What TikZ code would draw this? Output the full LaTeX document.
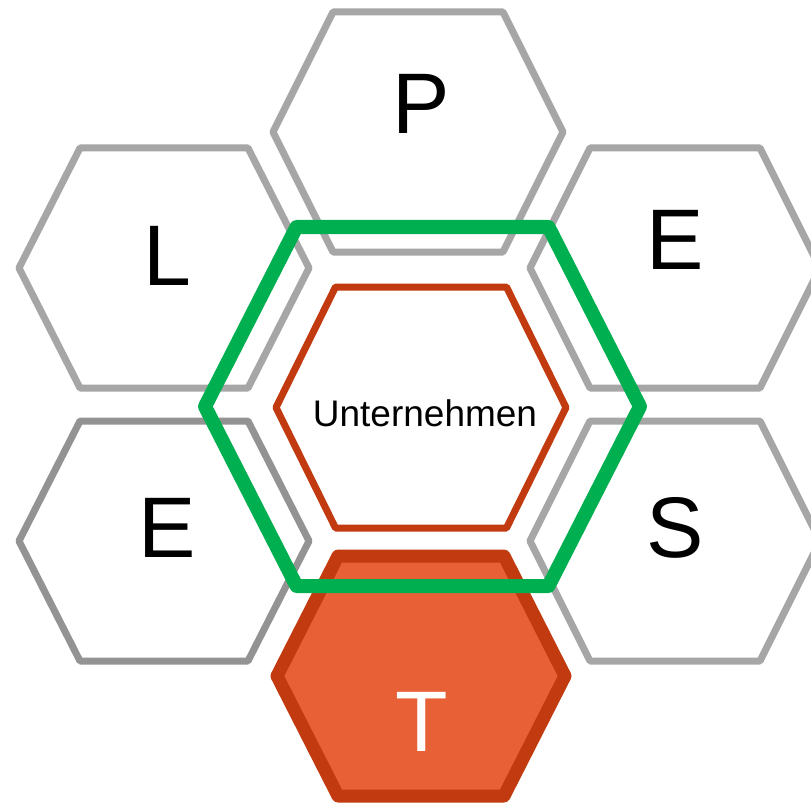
\documentclass[tikz,border=0pt]{standalone}
\usepackage{fontspec}
\setmainfont{Liberation Sans}
\definecolor{hexgray}{HTML}{A6A6A6}
\definecolor{hexgraydark}{HTML}{939393}
\definecolor{redline}{HTML}{C23A10}
\definecolor{tfill}{HTML}{E86036}
\definecolor{greenline}{HTML}{00B050}
\newcommand{\hexpath}[5]{(#1-#3,#2) -- (#1-#5,#2-#4) -- (#1+#5,#2-#4) -- (#1+#3,#2) -- (#1+#5,#2+#4) -- (#1-#5,#2+#4) -- cycle}
\tikzset{
  grayhex/.style={draw=hexgray, line width=7pt, line join=round},
  bigletter/.style={inner sep=0pt, font=\fontsize{86}{86}\selectfont},
}
\begin{document}
\begin{tikzpicture}[x=1pt,y=-1pt]
\useasboundingbox[fill=white] (0,0) rectangle (811,805);
% outer gray hexagons
\draw[grayhex] \hexpath{418}{132}{145}{120}{85};
\draw[grayhex] \hexpath{164}{268}{145}{120}{84};
\draw[grayhex] \hexpath{675}{268}{145}{120}{85};
\draw[grayhex, draw=hexgraydark] \hexpath{164}{541}{145}{120}{84};
\draw[grayhex] \hexpath{675}{541}{145}{120}{85};
% inner red hexagon
\draw[draw=redline, line width=7pt, line join=round] \hexpath{421}{407.5}{145}{120.5}{85.5};
% T hexagon
\draw[draw=redline, fill=tfill, line width=13pt, line join=round] \hexpath{421}{676}{144}{120}{83};
% green hexagon
\draw[draw=greenline, line width=14pt, line join=round] \hexpath{422.5}{406.5}{217.5}{179.5}{126};
% labels
\node[bigletter] (p) at (421,104) {P};
\node[bigletter] (l) at (167,256) {L};
\node[bigletter] (e1) at (675,240) {E};
\node[bigletter] (e2) at (167,528) {E};
\node[bigletter] (s) at (675,528) {S};
\node[bigletter, text=white] (t) at (422,722) {T};
\node[inner sep=0pt, font=\fontsize{37}{37}\selectfont] (u) at (425,413) {Unternehmen};
\end{tikzpicture}
\end{document}
